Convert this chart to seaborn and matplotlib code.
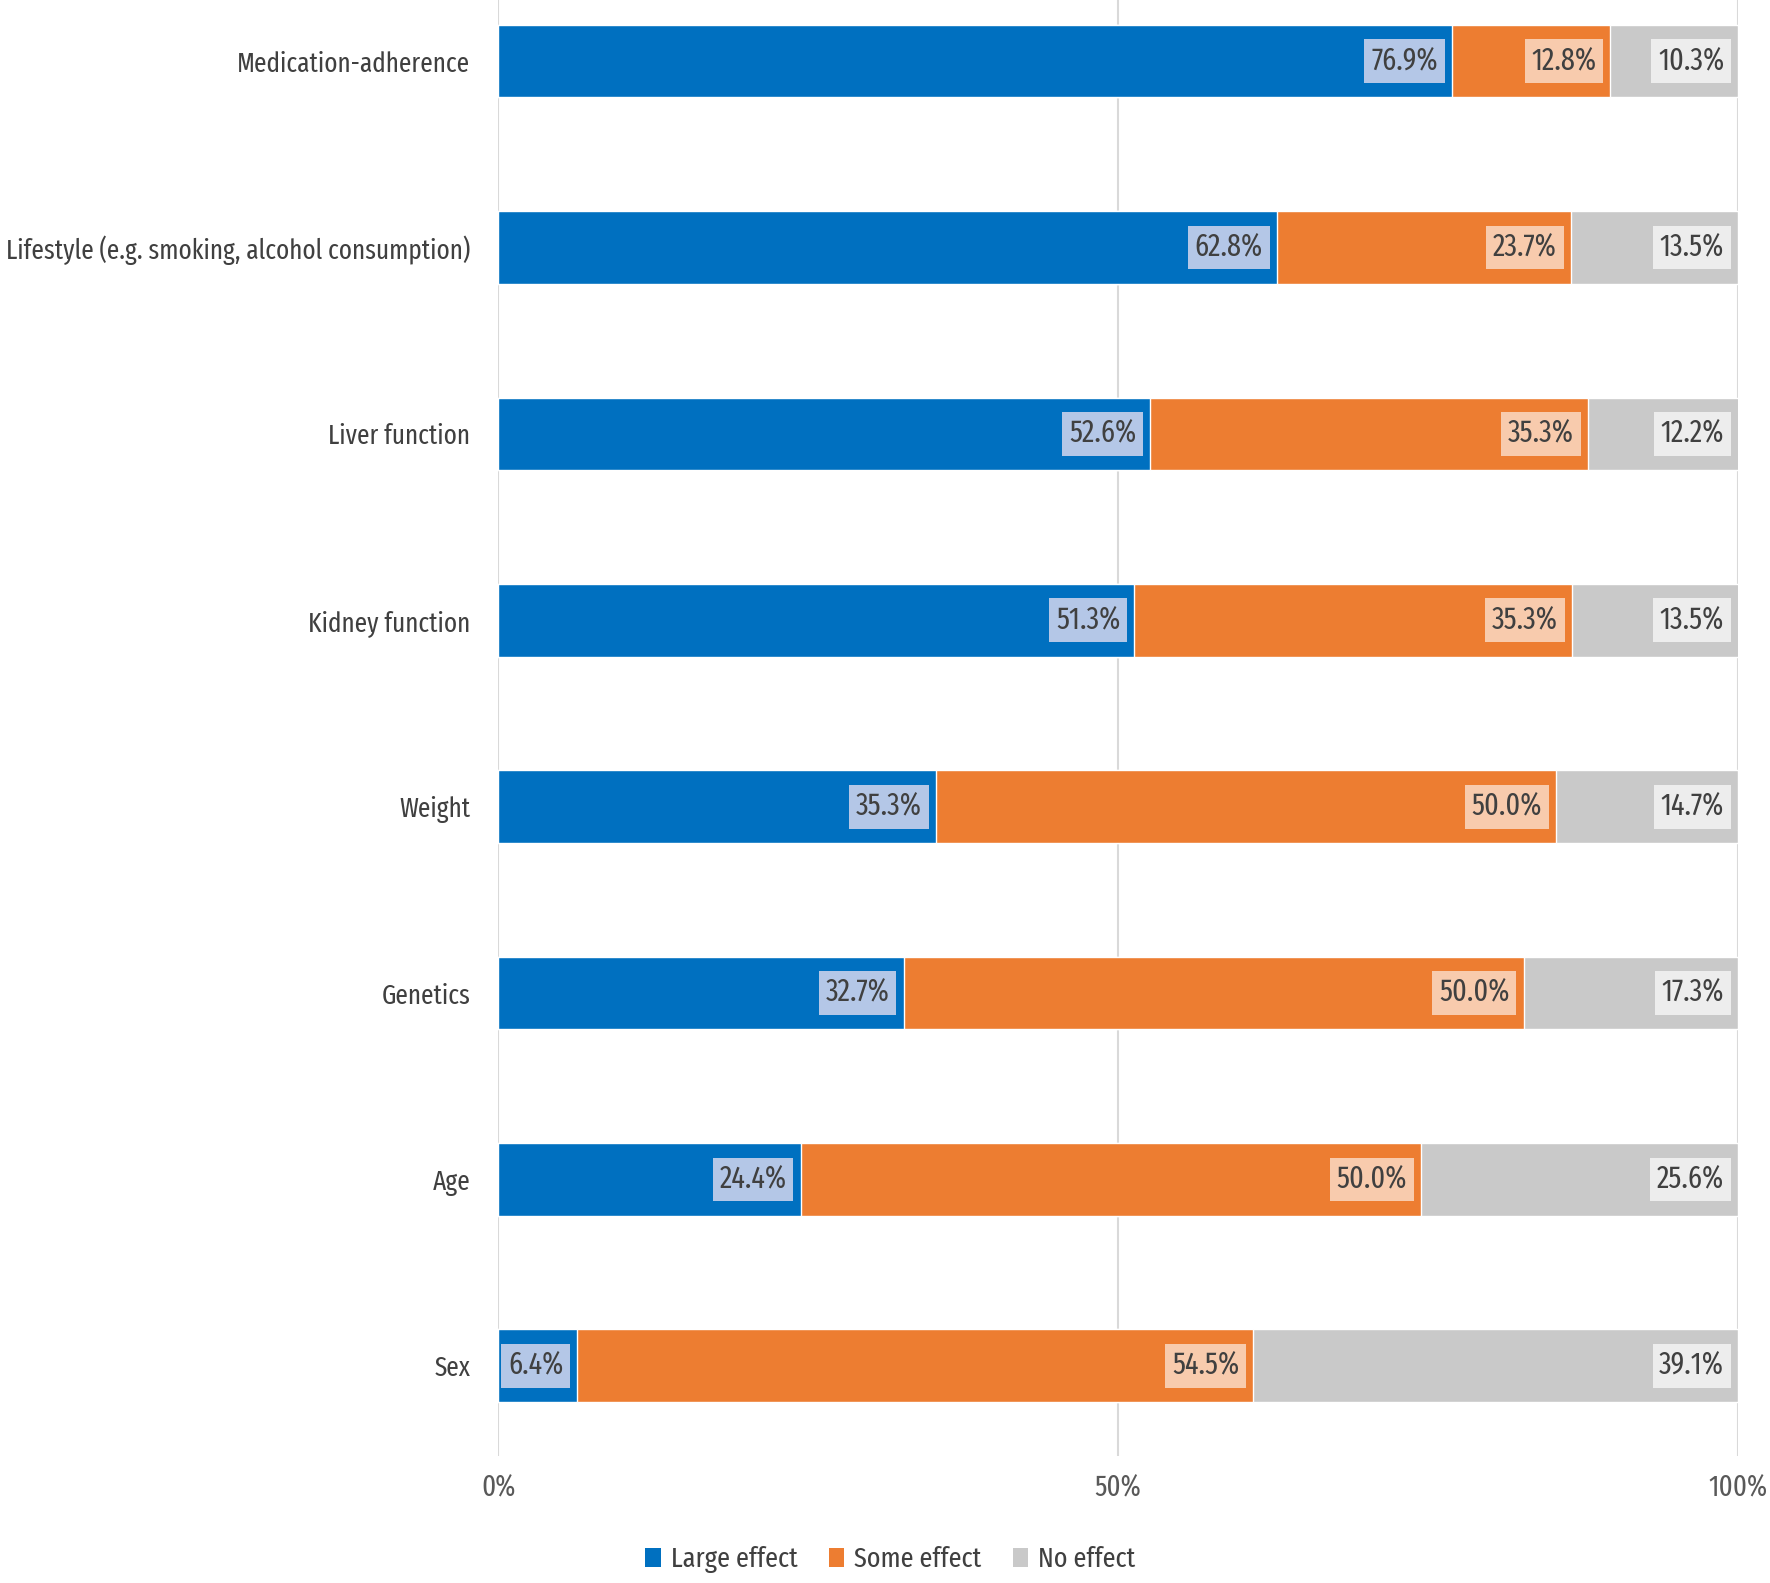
import pandas as pd
import matplotlib.pyplot as plt
import seaborn as sns
from matplotlib.patches import Patch

# ---- Data ----
factors = ["Medication-adherence", "Lifestyle (e.g. smoking, alcohol consumption)",
           "Liver function", "Kidney function", "Weight", "Genetics", "Age", "Sex"]
large_effect = [76.9, 62.8, 52.6, 51.3, 35.3, 32.7, 24.4, 6.4]
some_effect = [12.8, 23.7, 35.3, 35.3, 50.0, 50.0, 50.0, 54.5]
no_effect = [10.3, 13.5, 12.2, 13.5, 14.7, 17.3, 25.6, 39.1]
series_names = ["Large effect", "Some effect", "No effect"]
x_ticks = [0, 50, 100]
x_tick_labels = ["0%", "50%", "100%"]

df = pd.DataFrame({"factor": factors, "large": large_effect,
                   "some": some_effect, "none": no_effect})
df["cum_large"] = df["large"]
df["cum_some"] = df["large"] + df["some"]
df["cum_none"] = df["cum_some"] + df["none"]

colors = ["#0070C0", "#ED7D31", "#C9C9C9"]
box_colors = ["#B4C7E7", "#F8CBAD", "#EDEDED"]
text_color = "#404040"

# ---- Style ----
sns.set_theme(style="white")
plt.rcParams["font.family"] = ["Fira Sans Extra Condensed", "Fira Sans Condensed", "DejaVu Sans"]

fig = plt.figure(figsize=(17.7, 15.83), dpi=100)
ax = fig.add_axes([0.2814, 0.0802, 0.7006, 0.9198])

# ---- Stacked bars: cumulative totals, largest first ----
for col, c in zip(["cum_none", "cum_some", "cum_large"], colors[::-1]):
    sns.barplot(data=df, x=col, y="factor", orient="h", color=c,
                saturation=1, width=0.39, errorbar=None, ax=ax, zorder=2)

# ---- Segment labels ----
segs = [("large", "cum_large"), ("some", "cum_some"), ("none", "cum_none")]
for (val_col, end_col), bc in zip(segs, box_colors):
    for i, row in df.iterrows():
        ax.annotate(f"{row[val_col]:.1f}%", xy=(min(row[end_col], 100), i),
                    xytext=(-10, 0), textcoords="offset points",
                    ha="right", va="center", fontsize=22,
                    color=text_color, annotation_clip=False,
                    bbox=dict(boxstyle="square,pad=0.22", fc=bc, ec="none"),
                    zorder=5)

# ---- Axes ----
ax.set_xlim(0, 100)
ax.set_ylim(7.484, -0.328)
ax.set_xticks(x_ticks)
ax.set_xticklabels(x_tick_labels)
ax.set_xlabel("")
ax.set_ylabel("")
ax.grid(axis="x", color="#D9D9D9", linewidth=1.5, zorder=0)
ax.grid(axis="y", visible=False)
for s in ax.spines.values():
    s.set_visible(False)
ax.tick_params(axis="x", length=0, pad=13, labelsize=21, labelcolor="#595959")
ax.tick_params(axis="y", length=0, pad=20, labelsize=22, labelcolor=text_color)

# shrink the category labels so the longest one fits left of the axes
fig.canvas.draw()
renderer = fig.canvas.get_renderer()
widest = max(t.get_window_extent(renderer).width for t in ax.get_yticklabels())
if widest > 466:
    ax.tick_params(axis="y", labelsize=22 * 466 / widest)

# ---- Legend ----
handles = [Patch(facecolor=c, edgecolor="none") for c in colors]
fig.legend(handles, series_names, loc="lower center", bbox_to_anchor=(0.503, -0.010),
           ncol=3, frameon=False, fontsize=20.5, handlelength=0.55, handleheight=0.65,
           handletextpad=0.35, columnspacing=1.1, labelcolor=text_color)

plt.savefig("out.png", dpi=100)
